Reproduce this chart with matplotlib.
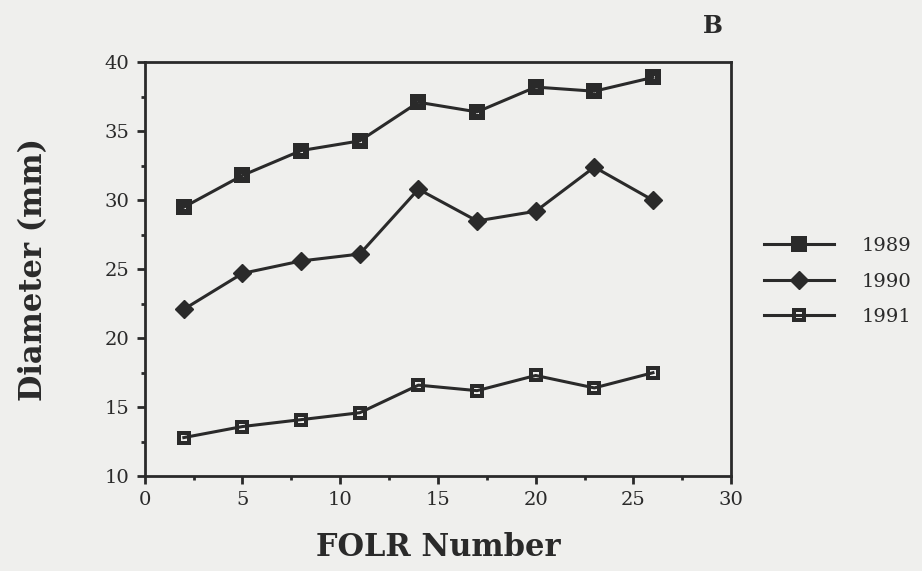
import numpy as np
import matplotlib
matplotlib.use("Agg")
import matplotlib.pyplot as plt
from matplotlib.path import Path
from matplotlib.ticker import MultipleLocator

# FOLR number along the x axis
folr = [2, 5, 8, 11, 14, 17, 20, 23, 26]

# diameter (mm) per year
d1989 = [29.5, 31.8, 33.6, 34.3, 37.1, 36.4, 38.2, 37.9, 38.9]
d1990 = [22.1, 24.7, 25.6, 26.1, 30.8, 28.5, 29.2, 32.4, 30.0]
d1991 = [12.8, 13.6, 14.1, 14.6, 16.6, 16.2, 17.3, 16.4, 17.5]

years = ["1989", "1990", "1991"]

ink = "#2a2a2a"
paper = "#efefed"


def holed_square(r):
    """Square marker with a square hole of relative size r."""
    outer = [(-1, -1), (1, -1), (1, 1), (-1, 1), (-1, -1)]
    inner = [(-r, -r), (-r, r), (r, r), (r, -r), (-r, -r)]
    verts = outer + inner
    codes = ([Path.MOVETO] + [Path.LINETO] * 3 + [Path.CLOSEPOLY]) * 2
    return Path(verts, codes)


fig = plt.figure(figsize=(9.22, 5.71), dpi=100, facecolor=paper)
ax = fig.add_axes([0.157, 0.166, 0.636, 0.725], facecolor=paper)

serif = "DejaVu Serif"

ax.plot(folr, d1989, color=ink, lw=2.2, marker=holed_square(0.18),
        ms=12, mfc=ink, mew=0, label=years[0])
ax.plot(folr, d1990, color=ink, lw=2.2, marker="D",
        ms=9, mfc=ink, mec=ink, label=years[1])
ax.plot(folr, d1991, color=ink, lw=2.2, marker=holed_square(0.42),
        ms=10.5, mfc=ink, mew=0, label=years[2])

ax.set_xlim(0, 30)
ax.set_ylim(10, 40)
ax.xaxis.set_major_locator(MultipleLocator(5))
ax.xaxis.set_minor_locator(MultipleLocator(2.5))
ax.yaxis.set_major_locator(MultipleLocator(5))
ax.yaxis.set_minor_locator(MultipleLocator(2.5))

for s in ax.spines.values():
    s.set_linewidth(2.0)
    s.set_color(ink)

ax.tick_params(which="major", direction="out", length=6, width=2,
               color=ink, labelsize=14, labelcolor=ink, pad=5)
ax.tick_params(which="minor", direction="out", length=3, width=2, color=ink)
for lab in ax.get_xticklabels() + ax.get_yticklabels():
    lab.set_family(serif)

ax.set_xlabel("FOLR Number", fontsize=22, fontweight="bold",
              family=serif, color=ink, labelpad=16)
ax.set_ylabel("Diameter (mm)", fontsize=22, fontweight="bold",
              family=serif, color=ink, labelpad=40)

fig.text(0.773, 0.955, "B", fontsize=17, fontweight="bold",
         family=serif, color=ink, ha="center", va="center")

leg = fig.legend(loc="center left", bbox_to_anchor=(0.81, 0.507),
                 frameon=False, handlelength=3.6, handletextpad=1.4,
                 labelspacing=0.9, prop={"family": serif, "size": 14})
for t in leg.get_texts():
    t.set_color(ink)

fig.savefig("out.png", dpi=100, facecolor=paper)
